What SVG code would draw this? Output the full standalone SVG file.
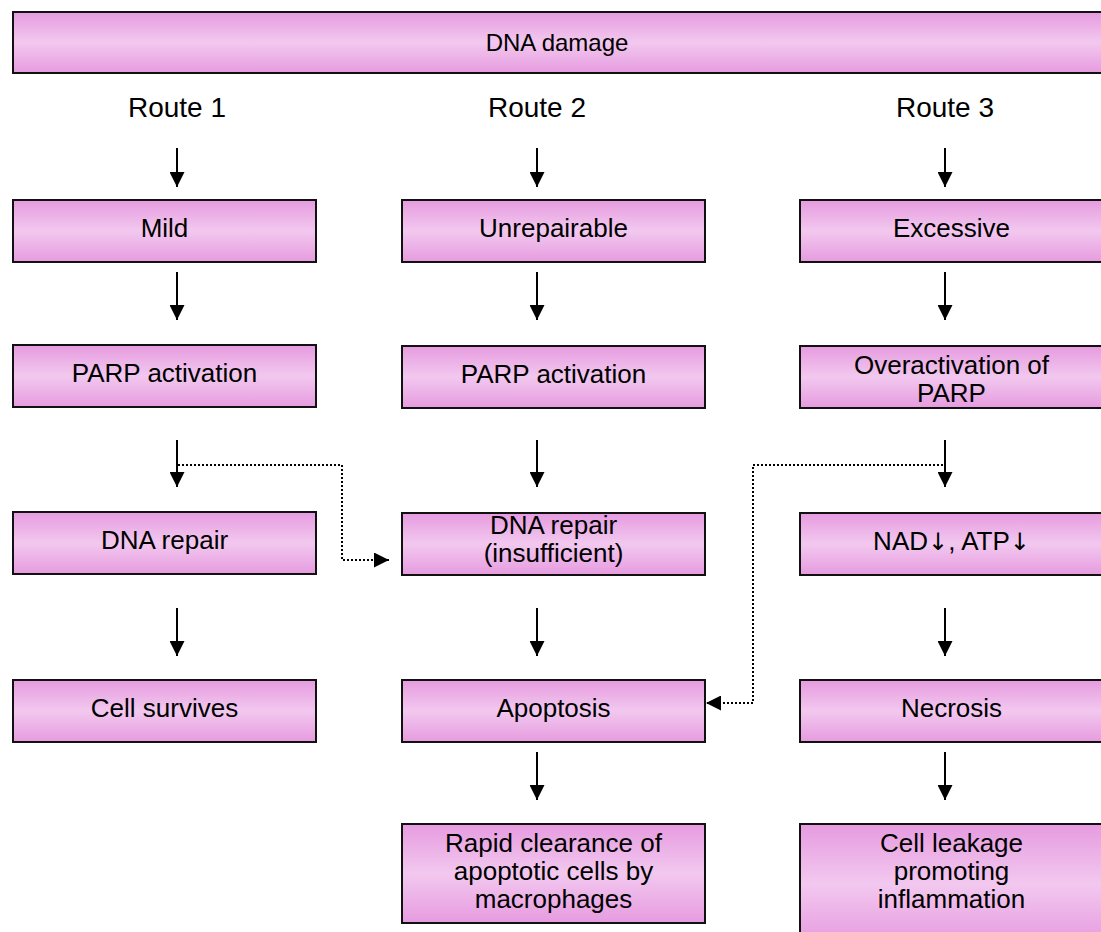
<svg xmlns="http://www.w3.org/2000/svg" width="1101" height="932" viewBox="0 0 1101 932">
<defs>
<linearGradient id="pink" x1="0" y1="0" x2="0" y2="1">
<stop offset="0" stop-color="#E69BDF"/>
<stop offset="0.5" stop-color="#F2C8EF"/>
<stop offset="1" stop-color="#E69BDF"/>
</linearGradient>
<marker id="ah" viewBox="0 0 15 15" refX="15" refY="7.5" markerWidth="15" markerHeight="15" markerUnits="userSpaceOnUse" orient="auto">
<path d="M0,0 L15,7.5 L0,15 z" fill="#000"/>
</marker>
</defs>
<style>
.box{fill:url(#pink);stroke:#111;stroke-width:2}
text{font-family:"Liberation Sans",Arial,sans-serif;font-size:26px;fill:#000;text-anchor:middle}
.route{font-size:28px}
.title{font-size:24px}
.sym{font-family:"DejaVu Sans",sans-serif;font-size:24px}
.arr{stroke:#000;stroke-width:2;fill:none;marker-end:url(#ah)}
.dot{stroke:#000;stroke-width:2;fill:none;stroke-dasharray:2 2;marker-end:url(#ah)}
</style>
<rect width="1101" height="932" fill="#fff"/>
<g id="dna-damage"><rect class="box" x="13" y="12" width="1092" height="61"/><text class="title" x="557" y="51">DNA damage</text></g>
<g id="route1"><text class="route" x="177" y="117">Route 1</text></g>
<g id="route2"><text class="route" x="537" y="117">Route 2</text></g>
<g id="route3"><text class="route" x="945" y="117">Route 3</text></g>
<g id="mild"><rect class="box" x="13" y="200" width="303" height="62"/><text x="164.5" y="237">Mild</text></g>
<g id="unrepairable"><rect class="box" x="402" y="200" width="303" height="62"/><text x="553.5" y="237">Unrepairable</text></g>
<g id="excessive"><rect class="box" x="800" y="200" width="303" height="62"/><text x="951.5" y="237">Excessive</text></g>
<g id="parp1"><rect class="box" x="13" y="345" width="303" height="62"/><text x="164.5" y="382">PARP activation</text></g>
<g id="parp2"><rect class="box" x="402" y="346" width="303" height="62"/><text x="553.5" y="383">PARP activation</text></g>
<g id="overactivation"><rect class="box" x="800" y="346" width="303" height="62"/><text x="951.5" y="374">Overactivation of</text><text x="951.5" y="402">PARP</text></g>
<g id="repair1"><rect class="box" x="13" y="512" width="303" height="62"/><text x="164.5" y="549">DNA repair</text></g>
<g id="repair2"><rect class="box" x="402" y="513" width="303" height="62"/><text x="553.5" y="534">DNA repair</text><text x="553.5" y="562">(insufficient)</text></g>
<g id="nad"><rect class="box" x="800" y="513" width="303" height="62"/><text x="951.5" y="550">NAD<tspan class="sym">↓</tspan>, ATP<tspan class="sym">↓</tspan></text></g>
<g id="survives"><rect class="box" x="13" y="680" width="303" height="62"/><text x="164.5" y="717">Cell survives</text></g>
<g id="apoptosis"><rect class="box" x="402" y="680" width="303" height="62"/><text x="553.5" y="717">Apoptosis</text></g>
<g id="necrosis"><rect class="box" x="800" y="680" width="303" height="62"/><text x="951.5" y="717">Necrosis</text></g>
<g id="clearance"><rect class="box" x="402" y="824" width="303" height="99"/><text x="553.5" y="852">Rapid clearance of</text><text x="553.5" y="880">apoptotic cells by</text><text x="553.5" y="908">macrophages</text></g>
<g id="leakage"><rect class="box" x="800" y="824" width="303" height="120"/><text x="951.5" y="852">Cell leakage</text><text x="951.5" y="880">promoting</text><text x="951.5" y="908">inflammation</text></g>
<g id="connectors">
<line class="arr" x1="177" y1="148" x2="177" y2="187"/>
<line class="arr" x1="537" y1="148" x2="537" y2="187"/>
<line class="arr" x1="945" y1="148" x2="945" y2="187"/>
<line class="arr" x1="177" y1="272" x2="177" y2="320"/>
<line class="arr" x1="537" y1="272" x2="537" y2="320"/>
<line class="arr" x1="945" y1="272" x2="945" y2="320"/>
<line class="arr" x1="177" y1="440" x2="177" y2="487"/>
<line class="arr" x1="537" y1="440" x2="537" y2="487"/>
<line class="arr" x1="945" y1="440" x2="945" y2="487"/>
<line class="arr" x1="177" y1="608" x2="177" y2="656"/>
<line class="arr" x1="537" y1="608" x2="537" y2="656"/>
<line class="arr" x1="945" y1="608" x2="945" y2="656"/>
<line class="arr" x1="537" y1="752" x2="537" y2="800"/>
<line class="arr" x1="945" y1="752" x2="945" y2="800"/>
<polyline class="dot" points="178,465 342,465 342,560 389,560"/>
<polyline class="dot" points="943,465 753,465 753,703 706,703"/>
</g>
</svg>
